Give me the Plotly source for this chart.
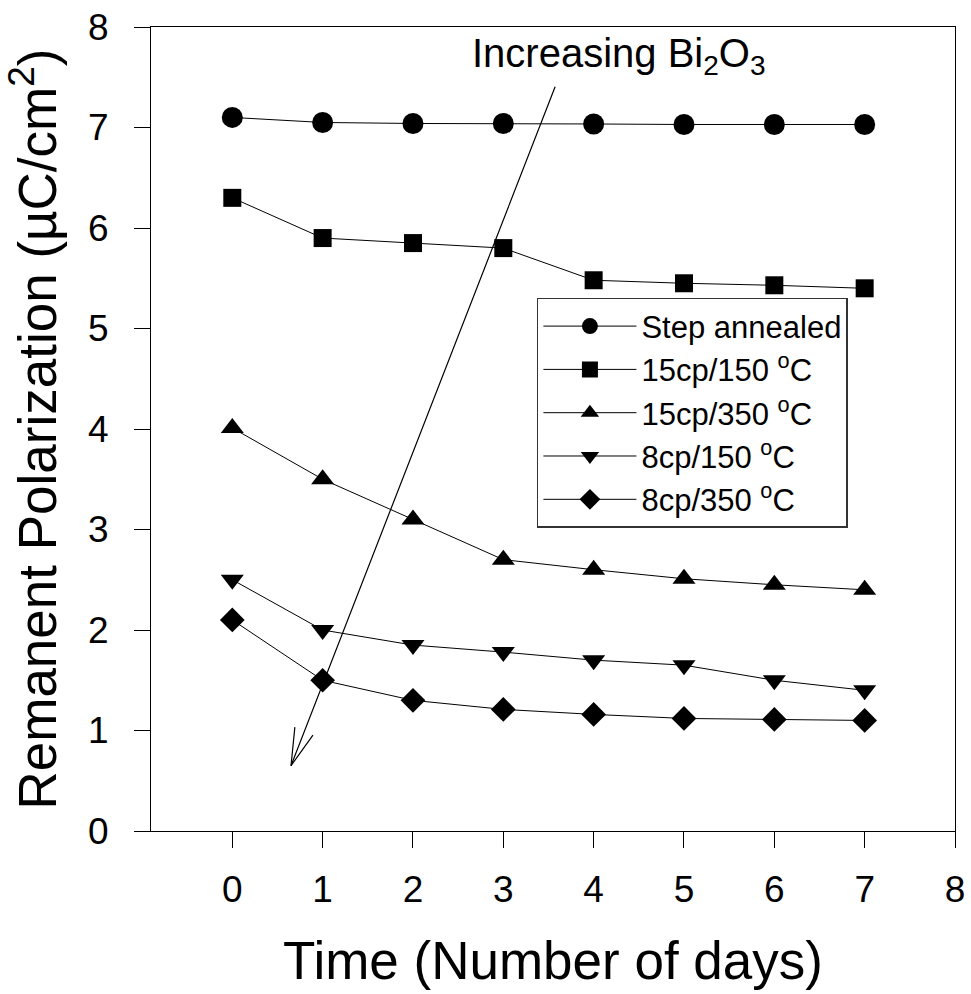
import plotly.graph_objects as go

days = [0, 1, 2, 3, 4, 5, 6, 7]
step_annealed = [7.10, 7.05, 7.04, 7.04, 7.035, 7.03, 7.03, 7.03]
cp15_150 = [6.30, 5.90, 5.85, 5.80, 5.48, 5.45, 5.43, 5.40]
cp15_350 = [4.01, 3.50, 3.10, 2.70, 2.60, 2.51, 2.45, 2.40]
cp8_150 = [2.50, 2.00, 1.85, 1.78, 1.70, 1.65, 1.50, 1.40]
cp8_350 = [2.10, 1.50, 1.30, 1.21, 1.16, 1.12, 1.11, 1.10]

series = [
    ("Step annealed", step_annealed, "circle", 21),
    ("15cp/150 <sup>o</sup>C", cp15_150, "square", 18),
    ("15cp/350 <sup>o</sup>C", cp15_350, "triangle-up", 20),
    ("8cp/150 <sup>o</sup>C", cp8_150, "triangle-down", 20),
    ("8cp/350 <sup>o</sup>C", cp8_350, "diamond", 19),
]

x_ticks = [0, 1, 2, 3, 4, 5, 6, 7, 8]
y_ticks = [0, 1, 2, 3, 4, 5, 6, 7, 8]

FONT = "Liberation Sans, Arial, sans-serif"

fig = go.Figure()
for name, vals, sym, size in series:
    fig.add_trace(go.Scatter(
        x=days, y=vals, name=name, mode="lines+markers",
        line=dict(color="black", width=1),
        marker=dict(symbol=sym, size=size, color="black", line=dict(width=0)),
    ))

# arrow: shaft from tail to tip, plus two arms drawn from the tip
tip_x, tip_y = 0.65, 0.65
tail_x, tail_y = 3.58, 7.42
fig.add_annotation(x=tip_x, y=tip_y, ax=tail_x, ay=tail_y, axref="x", ayref="y",
                   xref="x", yref="y", text="", showarrow=True, arrowhead=0,
                   arrowwidth=1.2, arrowcolor="black", standoff=0, startstandoff=0)
for dx, dy in [(4, -40), (23, -32)]:
    fig.add_annotation(x=tip_x, y=tip_y, ax=dx, ay=dy, xref="x", yref="y",
                       text="", showarrow=True, arrowhead=0, arrowwidth=1.2,
                       arrowcolor="black", standoff=0, startstandoff=0)

fig.add_annotation(x=4.28, y=7.71, xref="x", yref="y", showarrow=False,
                   text="Increasing Bi<sub>2</sub>O<sub>3</sub>",
                   font=dict(family=FONT, size=40, color="black"),
                   xanchor="center", yanchor="middle")

axis_common = dict(
    showline=True, linecolor="black", linewidth=1, mirror=True,
    ticks="outside", ticklen=16, tickwidth=1, tickcolor="black",
    showgrid=False, zeroline=False, automargin=False,
    tickfont=dict(family=FONT, size=37, color="black"),
)

fig.update_xaxes(range=[-0.9, 8], tickvals=x_ticks, ticklabelstandoff=10,
                 title=dict(text="Time (Number of days)",
                            font=dict(family=FONT, size=53, color="black"),
                            standoff=32),
                 **axis_common)
fig.update_yaxes(range=[0, 8], tickvals=y_ticks, ticklabelstandoff=18,
                 title=dict(text="Remanent Polarization (\u00b5C/cm<sup>2</sup>)",
                            font=dict(family=FONT, size=53, color="black"),
                            standoff=22),
                 **axis_common)

fig.update_layout(
    width=971, height=994,
    margin=dict(l=151, r=16, t=27, b=163, autoexpand=False),
    paper_bgcolor="white", plot_bgcolor="white",
    showlegend=True,
    legend=dict(x=0.48, y=0.663, xanchor="left", yanchor="top",
                bgcolor="white", bordercolor="#333", borderwidth=1.5,
                font=dict(family=FONT, size=31, color="black"),
                itemwidth=93, tracegroupgap=0),
)

fig.write_html("out.html")
